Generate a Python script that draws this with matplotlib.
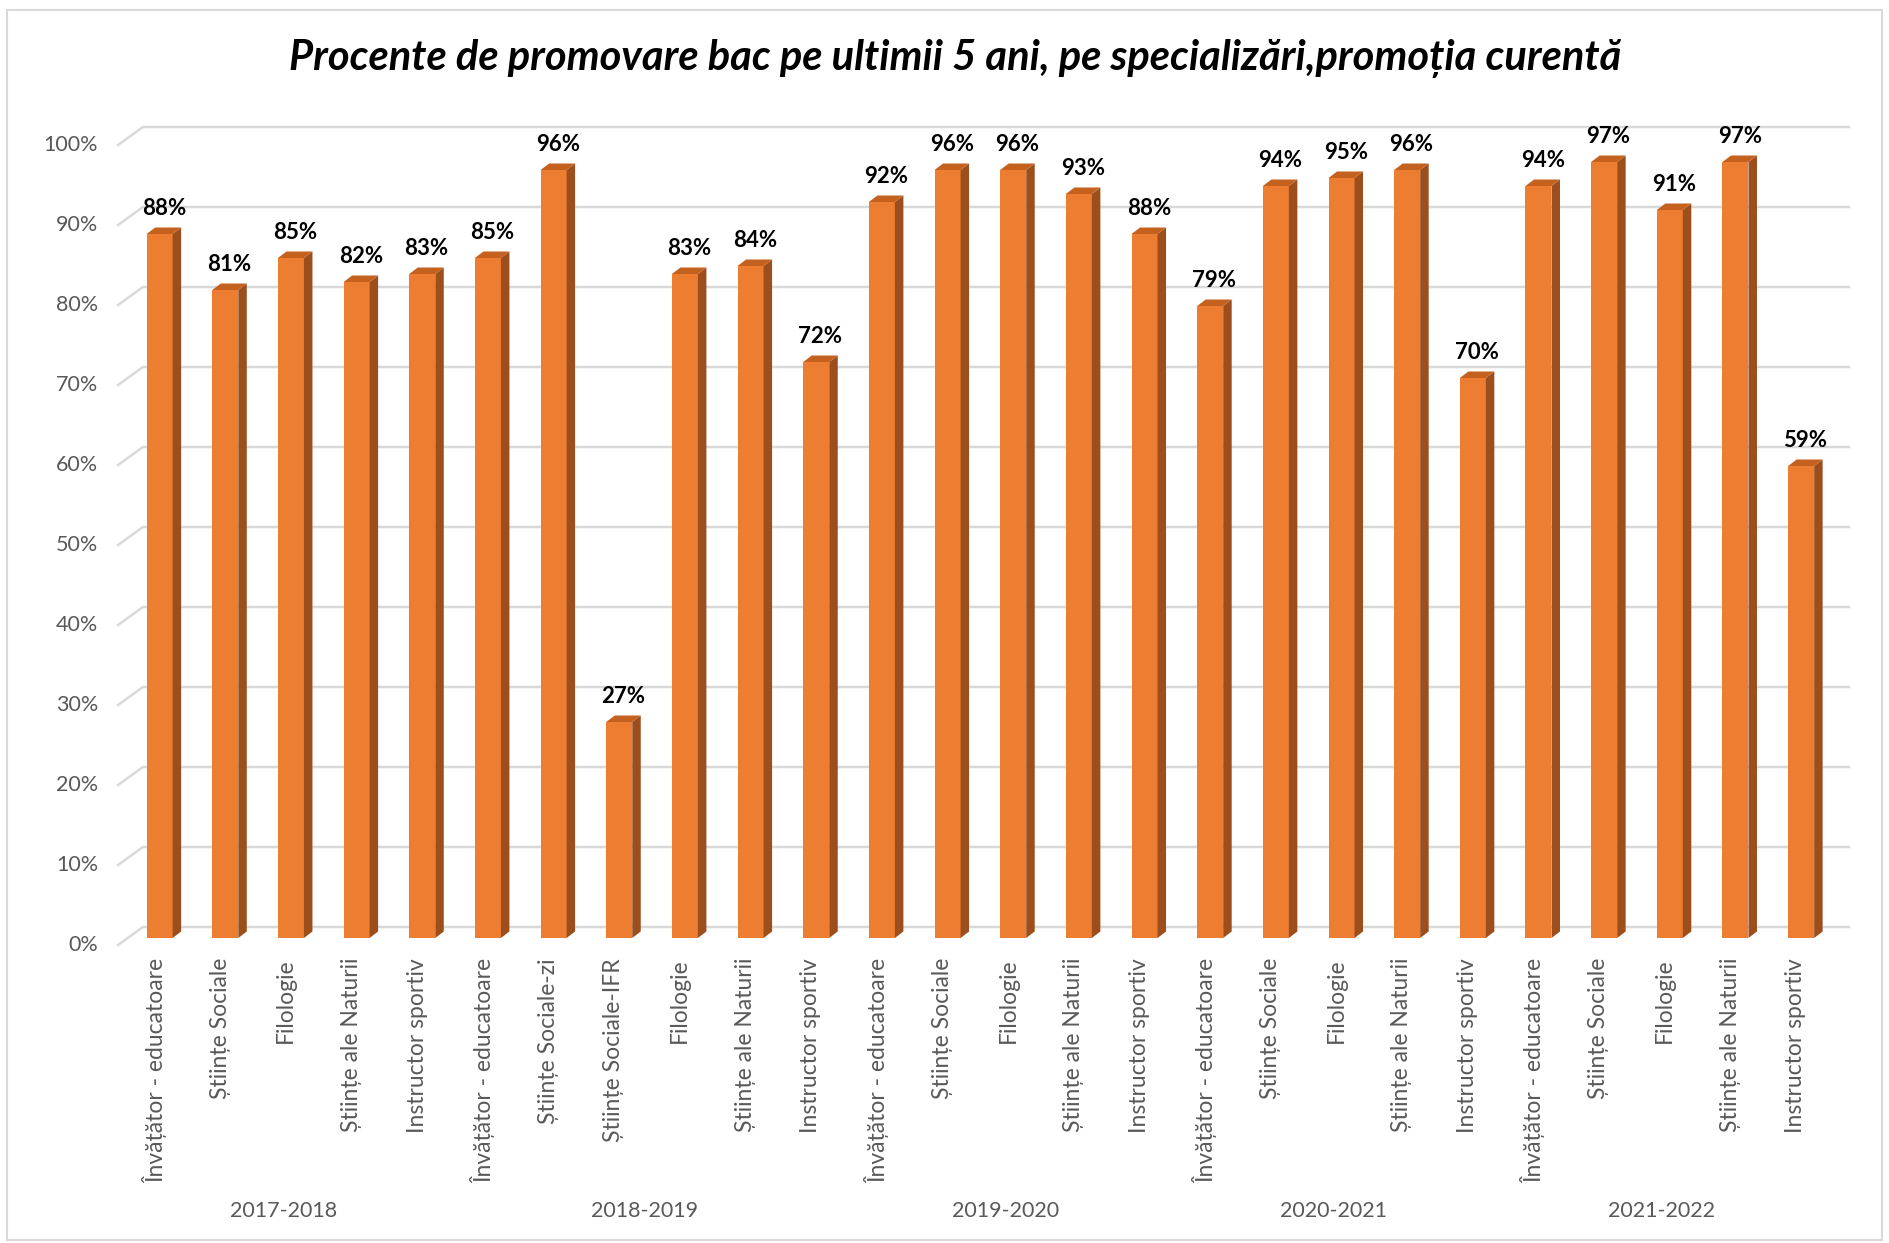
import matplotlib
matplotlib.use("Agg")
import matplotlib.pyplot as plt
from matplotlib.patches import Polygon, Rectangle
import numpy as np

plt.rcParams['font.family'] = ['Lato', 'DejaVu Sans']

title = "Procente de promovare bac pe ultimii 5 ani, pe specializări,promoția curentă"

years = ['2017-2018', '2018-2019', '2019-2020', '2020-2021', '2021-2022']

spec_2017 = ['Învățător - educatoare', 'Științe Sociale', 'Filologie',
             'Științe ale Naturii', 'Instructor sportiv']
vals_2017 = [0.88, 0.81, 0.85, 0.82, 0.83]

spec_2018 = ['Învățător - educatoare', 'Științe Sociale-zi', 'Științe Sociale-IFR',
             'Filologie', 'Științe ale Naturii', 'Instructor sportiv']
vals_2018 = [0.85, 0.96, 0.27, 0.83, 0.84, 0.72]

spec_2019 = ['Învățător - educatoare', 'Științe Sociale', 'Filologie',
             'Științe ale Naturii', 'Instructor sportiv']
vals_2019 = [0.92, 0.96, 0.96, 0.93, 0.88]

spec_2020 = ['Învățător - educatoare', 'Științe Sociale', 'Filologie',
             'Științe ale Naturii', 'Instructor sportiv']
vals_2020 = [0.79, 0.94, 0.95, 0.96, 0.70]

spec_2021 = ['Învățător - educatoare', 'Științe Sociale', 'Filologie',
             'Științe ale Naturii', 'Instructor sportiv']
vals_2021 = [0.94, 0.97, 0.91, 0.97, 0.59]

yticks = [0.0, 0.1, 0.2, 0.3, 0.4, 0.5, 0.6, 0.7, 0.8, 0.9, 1.0]

groups = [(spec_2017, vals_2017), (spec_2018, vals_2018), (spec_2019, vals_2019),
          (spec_2020, vals_2020), (spec_2021, vals_2021)]

labels = []
values = []
group_pos = []
for specs, vals in groups:
    start = len(labels)
    labels += specs
    values += vals
    group_pos.append((start + len(labels) - 1) / 2)
x = np.arange(len(values))
values = np.array(values)

front = '#ED7D31'
side = '#9C4E1D'
top = '#C5611F'
grid_c = '#D9D9D9'
txt_c = '#595959'

W, H = 1889, 1243
fig = plt.figure(figsize=(W / 100, H / 100), dpi=100)
# pixel geometry of the plot (bar front plane)
px_per_x = 65.66
px_per_y = 800.0
x0_px = 126.8       # x = -0.5
y0_px = 938.0       # value 0
ax = fig.add_axes([x0_px / W, (H - y0_px) / H,
                   26 * px_per_x / W, px_per_y / H])
ax.set_xlim(-0.5, len(values) - 0.5)
ax.set_ylim(0, 1)
ax.axis('off')

def px2x(px):
    return -0.5 + (px - x0_px) / px_per_x

# back wall and floor edge offsets (3d look)
back_dy = 11 / px_per_y
floor_dy = -7 / px_per_y
wall_left = px2x(143)
floor_left = px2x(118)
wall_right = px2x(1849)

for v in yticks:
    ax.plot([floor_left, wall_left, wall_right],
            [v + floor_dy, v + back_dy, v + back_dy],
            color=grid_c, lw=1.8, clip_on=False, zorder=1)
    ax.text(px2x(98), v + floor_dy, f'{int(round(v * 100))}%', ha='right', va='center',
            fontsize=15.5, color=txt_c)

bw = 26 / px_per_x
dx = 8.5 / px_per_x
dy = 6.5 / px_per_y

ax.bar(x, values, width=bw, color=front, zorder=3, clip_on=False)
for xi, v in zip(x, values):
    r = xi + bw / 2
    l = xi - bw / 2
    ax.add_patch(Polygon([(r, 0), (r + dx, dy), (r + dx, v + dy), (r, v)],
                         closed=True, facecolor=side, edgecolor='none', zorder=3,
                         clip_on=False))
    ax.add_patch(Polygon([(l, v), (r, v), (r + dx, v + dy), (l + dx, v + dy)],
                         closed=True, facecolor=top, edgecolor='none', zorder=3,
                         clip_on=False))
    ax.text(xi + dx / 2, v + dy + 0.011, f'{int(round(v * 100))}%', ha='center',
            va='bottom', fontsize=16, fontweight='bold', color='black', zorder=4)

for xi, lab in zip(x, labels):
    ax.text(xi - 0.08, -0.025, lab, rotation=90, ha='center', va='top',
            fontsize=16.5, color=txt_c, rotation_mode='default')

for gx, yr in zip(group_pos, years):
    ax.text(gx - 0.12, (y0_px - 1211) / px_per_y, yr, ha='center', va='center',
            fontsize=15.5, color=txt_c)

fig.text(955 / W, 1 - 58 / H, title, ha='center', va='center', fontsize=30,
         fontweight='bold', fontstyle='italic', color='black')

fig.patches.append(Rectangle((7 / W, 3 / H), (W - 14) / W, (H - 13) / H,
                             transform=fig.transFigure, fill=False,
                             edgecolor='#D9D9D9', lw=1.5))

fig.savefig('out.png', dpi=100, facecolor='white')
